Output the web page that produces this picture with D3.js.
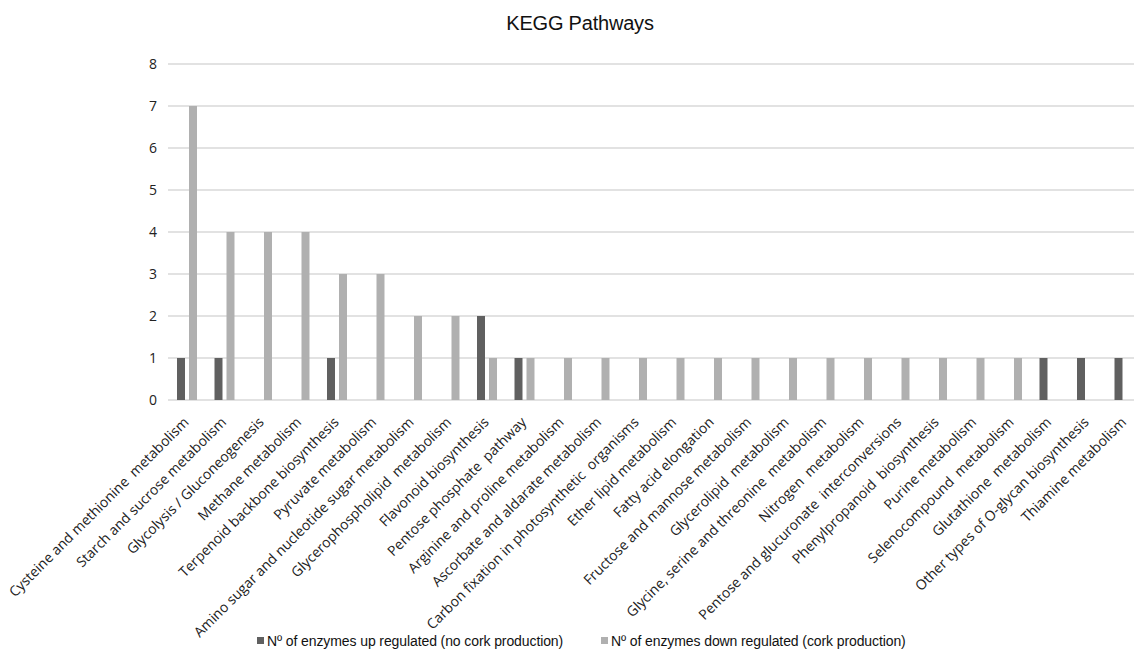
<!DOCTYPE html>
<html>
<head>
<meta charset="utf-8">
<script src="https://cdn.jsdelivr.net/npm/d3@7"></script>
<style>
  body { margin: 0; background: #fff; }
  svg { display: block; }
  .tickLabel { font-family: "Open Sans", sans-serif; font-size: 14px; fill: #222; white-space: pre; }
  .yLabel { font-family: "Open Sans", sans-serif; font-size: 14px; fill: #222; }
  .title { font-family: "Liberation Sans", sans-serif; font-size: 20px; letter-spacing: -0.2px; fill: #111; }
  .legendText { font-family: "Liberation Sans", sans-serif; font-size: 14px; letter-spacing: -0.1px; fill: #111; }
</style>
</head>
<body>
<script>
var pathways = [
  "Cysteine and methionine  metabolism",
  "Starch and sucrose metabolism",
  "Glycolysis / Gluconeogenesis",
  "Methane metabolism",
  "Terpenoid backbone biosynthesis",
  "Pyruvate metabolism",
  "Amino sugar and nucleotide sugar metabolism",
  "Glycerophospholipid  metabolism",
  "Flavonoid biosynthesis",
  "Pentose phosphate  pathway",
  "Arginine and proline metabolism",
  "Ascorbate and aldarate metabolism",
  "Carbon fixation in photosynthetic  organisms",
  "Ether lipid metabolism",
  "Fatty acid elongation",
  "Fructose and mannose metabolism",
  "Glycerolipid  metabolism",
  "Glycine, serine and threonine  metabolism",
  "Nitrogen  metabolism",
  "Pentose and glucuronate  interconversions",
  "Phenylpropanoid  biosynthesis",
  "Purine metabolism",
  "Selenocompound  metabolism",
  "Glutathione  metabolism",
  "Other types of O-glycan biosynthesis",
  "Thiamine metabolism"
];
var upRegulated = [1, 1, 0, 0, 1, 0, 0, 0, 2, 1, 0, 0, 0, 0, 0, 0, 0, 0, 0, 0, 0, 0, 0, 1, 1, 1];
var downRegulated = [7, 4, 4, 4, 3, 3, 2, 2, 1, 1, 1, 1, 1, 1, 1, 1, 1, 1, 1, 1, 1, 1, 1, 0, 0, 0];
var seriesNames = ["Nº of enzymes up regulated (no cork production)", "Nº of enzymes down regulated (cork production)"];
var yTicks = [0, 1, 2, 3, 4, 5, 6, 7, 8];

var width = 1134, height = 652;
var margin = { top: 64, right: -9, bottom: 252, left: 168 };
var colors = ["#606060", "#b0b0b0"];

var data = pathways.map(function(p, i) {
  return { name: p, values: [upRegulated[i], downRegulated[i]] };
});

var svg = d3.select("body").append("svg")
  .attr("width", width)
  .attr("height", height);

var x = d3.scaleBand()
  .domain(pathways)
  .range([margin.left, width - margin.right]);
var xSub = d3.scaleBand()
  .domain([0, 1])
  .range([x.bandwidth() * 0.24, x.bandwidth() * 0.773])
  .paddingInner(1 / 3);
var y = d3.scaleLinear()
  .domain([0, 8])
  .range([height - margin.bottom, margin.top]);

// gridlines
svg.append("g")
  .selectAll("line")
    .data(yTicks)
  .enter().append("line")
    .attr("x1", margin.left)
    .attr("x2", width)
    .attr("y1", function(d) { return y(d); })
    .attr("y2", function(d) { return y(d); })
    .attr("stroke", "#d9d9d9")
    .attr("stroke-width", 1.5);

// y axis labels
var yAxis = d3.axisLeft(y)
  .tickValues(yTicks)
  .tickSize(0)
  .tickPadding(11);
var yAxisGroup = svg.append("g")
  .attr("transform", "translate(" + margin.left + ",0)")
  .call(yAxis);
yAxisGroup.select(".domain").remove();
yAxisGroup.selectAll("text")
  .attr("class", "yLabel");

// bars
var groups = svg.append("g")
  .selectAll("g")
    .data(data)
  .enter().append("g")
    .attr("transform", function(d) { return "translate(" + x(d.name) + ",0)"; });
groups.selectAll("rect")
    .data(function(d) { return d.values; })
  .enter().append("rect")
    .attr("x", function(d, i) { return xSub(i); })
    .attr("width", xSub.bandwidth())
    .attr("y", function(d) { return y(d); })
    .attr("height", function(d) { return y(0) - y(d); })
    .attr("fill", function(d, i) { return colors[i]; });

// category labels
svg.append("g")
  .selectAll("text")
    .data(pathways)
  .enter().append("text")
    .attr("class", "tickLabel")
    .attr("text-anchor", "end")
    .attr("transform", function(d) {
      return "translate(" + (x(d) + x.bandwidth() / 2 + 3) + "," + (y(0) + 23) + ") rotate(-45)";
    })
    .text(function(d) { return d; });

// title
svg.append("text")
  .attr("class", "title")
  .attr("x", 580)
  .attr("y", 30)
  .attr("text-anchor", "middle")
  .text("KEGG Pathways");

// legend
var legendX = [257, 601];
var legend = svg.append("g")
  .selectAll("g")
    .data(seriesNames)
  .enter().append("g")
    .attr("transform", function(d, i) { return "translate(" + legendX[i] + "," + 641 + ")"; });
legend.append("rect")
  .attr("x", 0)
  .attr("y", -4)
  .attr("width", 7)
  .attr("height", 7)
  .attr("fill", function(d, i) { return colors[i]; });
legend.append("text")
  .attr("class", "legendText")
  .attr("x", 10)
  .attr("y", 5)
  .text(function(d) { return d; });
</script>
</body>
</html>
